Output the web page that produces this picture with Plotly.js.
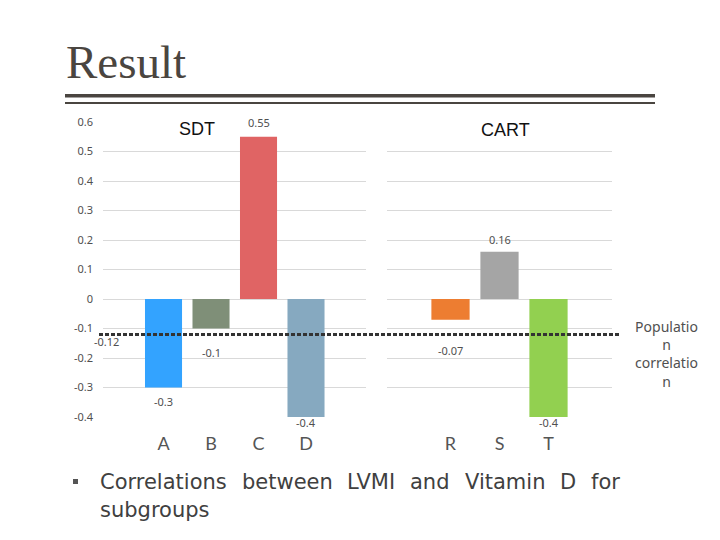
<!DOCTYPE html>
<html>
<head>
<meta charset="utf-8">
<script src="https://cdn.plot.ly/plotly-3.0.1.min.js"></script>
<style>html,body{margin:0;padding:0;background:#fff;}#chart{width:720px;height:540px;}</style>
</head>
<body>
<div id="chart"></div>
<script>
// ---- data ----
const slideTitle = "Result";
const sdtTitle = "SDT";
const cartTitle = "CART";
const sdtCategories = ["A", "B", "C", "D"];
const sdtValues = [-0.3, -0.1, 0.55, -0.4];
const cartCategories = ["R", "S", "T"];
const cartValues = [-0.07, 0.16, -0.4];
const populationValue = -0.12;
const populationLabel = "Populatio<br>n<br>correlatio<br>n";
const yTickVals = [0.6, 0.5, 0.4, 0.3, 0.2, 0.1, 0, -0.1, -0.2, -0.3, -0.4];
const yTickText = ["0.6", "0.5", "0.4", "0.3", "0.2", "0.1", "0", "-0.1", "-0.2", "-0.3", "-0.4"];
const bulletLine1 = "Correlations between LVMI and Vitamin D for";
const bulletLine2 = "subgroups";

// ---- styles ----
const sdtColors = ["#33A3FF", "#7F8F78", "#E06464", "#86A9C0"];
const cartColors = ["#ED7D31", "#A5A5A5", "#92D050"];
const sdtLabelShift = [-14, -24, 14, -5];
const cartLabelShift = [-31, 12, -5];
const dark = "#4a4540";
const textGray = "#505050";
const bulletFamily = "DejaVu Sans";
const bulletSize = 21;

function fmt(v) { return String(v); }

const W = 720, H = 540;
const px = x => x / W;
const py = y => 1 - y / H;

const traces = [
  {type: "bar", x: sdtCategories, y: sdtValues, xaxis: "x", yaxis: "y",
   marker: {color: sdtColors}, hoverinfo: "skip"},
  {type: "bar", x: cartCategories, y: cartValues, xaxis: "x2", yaxis: "y2",
   marker: {color: cartColors}, hoverinfo: "skip"}
];

const annotations = [];
sdtCategories.forEach((c, i) => annotations.push({
  xref: "x", yref: "y", x: c, y: sdtValues[i], yshift: sdtLabelShift[i],
  text: fmt(sdtValues[i]), showarrow: false, xanchor: "center", yanchor: "middle",
  font: {family: "Noto Sans, sans-serif", size: 11, color: textGray}
}));
cartCategories.forEach((c, i) => annotations.push({
  xref: "x2", yref: "y2", x: c, y: cartValues[i], yshift: cartLabelShift[i],
  text: fmt(cartValues[i]), showarrow: false, xanchor: "center", yanchor: "middle",
  font: {family: "Noto Sans, sans-serif", size: 11, color: textGray}
}));
annotations.push({
  xref: "paper", yref: "y", x: px(106), y: populationValue, yshift: -7,
  text: fmt(populationValue), showarrow: false, xanchor: "center", yanchor: "middle",
  font: {family: "Noto Sans, sans-serif", size: 11, color: textGray}
});
annotations.push({
  xref: "paper", yref: "paper", x: px(666), y: py(354),
  text: populationLabel, showarrow: false, xanchor: "center", yanchor: "middle", align: "center",
  font: {family: "Noto Sans, sans-serif", size: 14, color: textGray}
});
annotations.push({
  xref: "paper", yref: "paper", x: px(197), y: py(129), text: sdtTitle, showarrow: false,
  xanchor: "center", yanchor: "middle", font: {family: "Liberation Sans, Arial, sans-serif", size: 18, color: "#111"}
});
annotations.push({
  xref: "paper", yref: "paper", x: px(506), y: py(130), text: cartTitle, showarrow: false,
  xanchor: "center", yanchor: "middle", font: {family: "Liberation Sans, Arial, sans-serif", size: 18, color: "#111"}
});
annotations.push({
  xref: "paper", yref: "paper", x: px(64), y: py(62), text: slideTitle, showarrow: false,
  xanchor: "left", yanchor: "middle", font: {family: "Liberation Serif, serif", size: 47, color: dark}
});

// justified first bullet line: words spread between x=99 and x=619
(function () {
  const words = bulletLine1.split(" ");
  const ctx = document.createElement("canvas").getContext("2d");
  ctx.font = bulletSize + "px '" + bulletFamily + "'";
  const widths = words.map(w => ctx.measureText(w).width);
  const left = 99, right = 619;
  const total = widths.reduce((a, b) => a + b, 0);
  const gap = (right - left - total) / (words.length - 1);
  let x = left;
  words.forEach((w, i) => {
    annotations.push({
      xref: "paper", yref: "paper", x: px(x), y: py(482), text: w, showarrow: false,
      xanchor: "left", yanchor: "middle", borderpad: 0,
      font: {family: bulletFamily + ", sans-serif", size: bulletSize, color: "#404040"}
    });
    x += widths[i] + gap;
  });
})();
annotations.push({
  xref: "paper", yref: "paper", x: px(99), y: py(510), text: bulletLine2, showarrow: false,
  xanchor: "left", yanchor: "middle", borderpad: 0,
  font: {family: bulletFamily + ", sans-serif", size: bulletSize, color: "#404040"}
});

const shapes = [
  {type: "rect", xref: "paper", yref: "paper", x0: px(65), x1: px(655), y0: py(94), y1: py(97.5),
   fillcolor: dark, line: {width: 0}},
  {type: "rect", xref: "paper", yref: "paper", x0: px(65), x1: px(655), y0: py(102), y1: py(104),
   fillcolor: dark, line: {width: 0}},
  {type: "line", xref: "paper", yref: "y", x0: px(99), x1: px(621), y0: populationValue, y1: populationValue,
   line: {color: "#333", width: 3, dash: "4px,2px"}},
  {type: "rect", xref: "paper", yref: "paper", x0: px(73), x1: px(78), y0: py(479), y1: py(484),
   fillcolor: "#555", line: {width: 0}}
];

const yCommon = {
  range: [-0.4, 0.6], domain: [py(417), py(122)], tickmode: "array",
  tickvals: yTickVals, ticktext: yTickText, showgrid: true, gridcolor: "#d9d9d9", gridwidth: 1,
  zeroline: false, showline: false, ticks: "", fixedrange: true,
  tickfont: {family: "Noto Sans, sans-serif", size: 11, color: textGray}
};
const xCommon = {
  type: "category", showgrid: false, zeroline: false, showline: false, ticks: "",
  tickfont: {family: "Lato, sans-serif", size: 18, color: "#555"}, ticklabelstandoff: 14
};

const layout = {
  width: W, height: H, margin: {l: 0, r: 0, t: 0, b: 0},
  paper_bgcolor: "#fff", plot_bgcolor: "rgba(0,0,0,0)", showlegend: false, bargap: 0.22,
  xaxis: Object.assign({}, xCommon, {domain: [px(103), px(366)], range: [-1.274, 4.263], anchor: "y"}),
  xaxis2: Object.assign({}, xCommon, {domain: [px(387), px(612)], range: [-1.296, 3.296], anchor: "y2"}),
  yaxis: Object.assign({}, yCommon, {anchor: "x", ticklabelstandoff: 9}),
  yaxis2: Object.assign({}, yCommon, {anchor: "x2", showticklabels: false}),
  annotations: annotations, shapes: shapes
};

Plotly.newPlot("chart", traces, layout, {staticPlot: true, displayModeBar: false});
</script>
</body>
</html>
